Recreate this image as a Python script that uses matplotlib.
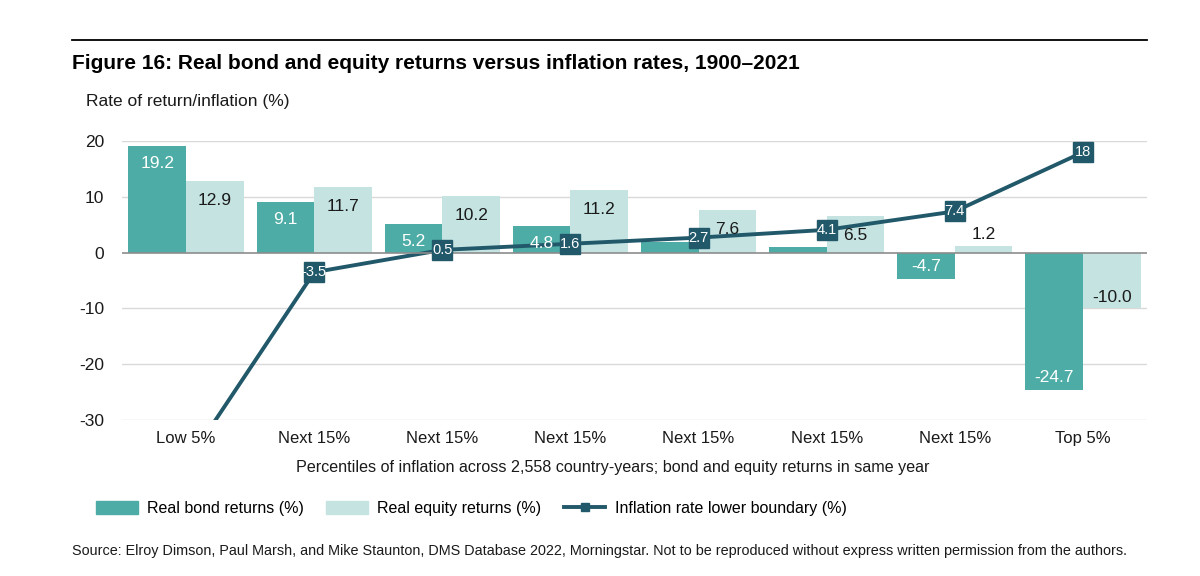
import numpy as np
import matplotlib
matplotlib.use("Agg")
from matplotlib import pyplot as plt
from matplotlib.lines import Line2D
from matplotlib.patches import Patch

plt.rcParams['font.family'] = ['Liberation Sans', 'DejaVu Sans']

categories = ["Low 5%", "Next 15%", "Next 15%", "Next 15%", "Next 15%", "Next 15%", "Next 15%", "Top 5%"]
bond = [19.2, 9.1, 5.2, 4.8, 2.0, 1.0, -4.7, -24.7]
equity = [12.9, 11.7, 10.2, 11.2, 7.6, 6.5, 1.2, -10.0]
inflation = [-37.9, -3.5, 0.5, 1.6, 2.7, 4.1, 7.4, 18]
bond_labels = ["19.2", "9.1", "5.2", "4.8", "", "", "-4.7", "-24.7"]
equity_labels = ["12.9", "11.7", "10.2", "11.2", "7.6", "6.5", "1.2", "-10.0"]
infl_labels = ["", "-3.5", "0.5", "1.6", "2.7", "4.1", "7.4", "18"]

c_bond = "#4dada6"
c_eq = "#c4e3e1"
c_line = "#22596a"

fig = plt.figure(figsize=(12, 5.76), dpi=100)
ax = fig.add_axes([0.1017, 0.2708, 0.8541, 0.4842])

x = np.arange(len(categories))
w = 0.45
ax.bar(x - w / 2, bond, w, color=c_bond, zorder=2)
ax.bar(x + w / 2, equity, w, color=c_eq, zorder=2)

for i in range(len(x)):
    if bond_labels[i]:
        off = -13 if bond[i] > 0 else 9
        ax.annotate(bond_labels[i], (x[i] - w / 2, bond[i]), xytext=(0, off),
                    textcoords="offset points", ha="center", va="center",
                    color="white", fontsize=12.5, zorder=5)
    if equity[i] > 3:
        off = -14
    else:
        off = 8
    ax.annotate(equity_labels[i], (x[i] + w / 2, equity[i]), xytext=(0, off),
                textcoords="offset points", ha="center", va="center",
                color="#1a1a1a", fontsize=12.5, zorder=5)

# inflation line, clipped at the axis bottom; markers for visible points
ax.plot(x, inflation, color=c_line, lw=2.8, zorder=3)
ax.plot(x[1:], inflation[1:], ls="none", marker="s", markersize=14,
        color=c_line, zorder=5, clip_on=False)
for i in range(1, len(x)):
    ax.text(x[i], inflation[i], infl_labels[i], ha="center", va="center",
            color="white", fontsize=10.5, zorder=6, clip_on=False)

ax.set_xlim(-0.5, 7.5)
ax.set_ylim(-30, 20)
ax.set_yticks([-30, -20, -10, 0, 10, 20])
ax.set_yticklabels(["-30", "-20", "-10", "0", "10", "20"])
ax.set_xticks(x)
ax.set_xticklabels(categories)
ax.tick_params(length=0, labelsize=12.5, colors="#1a1a1a")
ax.tick_params(axis="x", labelsize=12)
ax.tick_params(axis="y", pad=13)
ax.tick_params(axis="x", pad=8)
for s in ax.spines.values():
    s.set_visible(False)
for v in [-30, -20, -10, 10, 20]:
    ax.axhline(v, color="#d9d9d9", lw=1, zorder=1)
ax.axhline(0, color="#8c8c8c", lw=1.2, zorder=4)

ax.set_xlabel("Percentiles of inflation across 2,558 country-years; bond and equity returns in same year",
              fontsize=11.6, color="#1a1a1a", labelpad=10)
ax.xaxis.label.set_x(0.479)

fig.add_artist(Line2D([0.06, 0.956], [0.931, 0.931], color="black", lw=1.3))
fig.text(0.06, 0.89, "Figure 16: Real bond and equity returns versus inflation rates, 1900\u20132021",
         fontsize=15, fontweight="bold", va="center", color="black")
fig.text(0.0717, 0.824, "Rate of return/inflation (%)", fontsize=12.5, va="center", color="#1a1a1a")

handles = [Patch(color=c_bond), Patch(color=c_eq),
           Line2D([0], [0], color=c_line, lw=2.8, marker="s", markersize=6)]
labels = ["Real bond returns (%)", "Real equity returns (%)", "Inflation rate lower boundary (%)"]
fig.legend(handles, labels, loc="center left", bbox_to_anchor=(0.068, 0.117), ncol=3,
           frameon=False, fontsize=11.5, handlelength=2.6, handleheight=0.8,
           columnspacing=1.4, handletextpad=0.6)

fig.text(0.06, 0.043, "Source: Elroy Dimson, Paul Marsh, and Mike Staunton, DMS Database 2022, Morningstar. "
         "Not to be reproduced without express written permission from the authors.",
         fontsize=10.4, va="center", color="#1a1a1a")

fig.savefig("out.png", dpi=100)
